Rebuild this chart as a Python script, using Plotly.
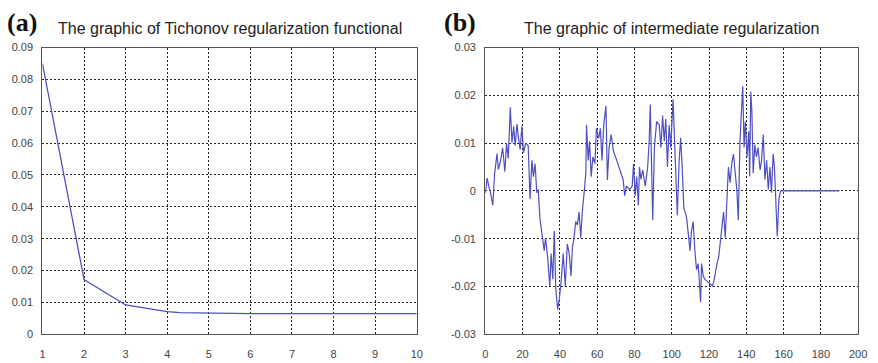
import plotly.graph_objects as go

# Panel (a): Tichonov regularization functional
iter_a = [1, 2, 3, 4, 4.3, 5, 6, 7, 8, 9, 10]
val_a = [0.085, 0.0172, 0.0092, 0.0071, 0.0068, 0.0066, 0.0065, 0.0065, 0.0065, 0.0065, 0.0065]

# Panel (b): intermediate regularization
x_b = [0, 1, 2, 2.6, 4, 5, 6.3, 7, 8, 9.3, 10.5, 11.4, 12.3, 13.4, 14.3, 15.2, 16.0, 17.0, 17.8,
       18.7, 19.6, 20.5, 21.7, 23, 24, 25, 25.8, 26.7, 27.6, 28.4, 29.3, 30.5, 31.6, 32.3, 33.4,
       34.6, 35.3, 36.2, 37, 37.8, 38.8, 39.7, 40.6, 41.8, 42.9, 44, 45, 46, 46.7, 47.6, 48.5,
       49.4, 50.3, 51.2, 52, 53, 53.9, 54.3, 55.2, 55.9, 56.8, 57.7, 58.8, 59.6, 60.8, 61.7,
       62.6, 63.5, 64.7, 65.5, 66.4, 67.5, 68.7, 70.5, 72.1, 73.9, 74.8, 75.7, 77.4, 78.8,
       79.5, 80.4, 81.2, 82.1, 82.7, 83.5, 84.4, 85.8, 87.1, 87.9, 88.5, 89.4, 89.8, 90.7,
       91.9, 93.3, 94.2, 95.1, 96, 96.8, 97.7, 98.6, 99.5, 100.7, 101.6, 102.5, 103, 103.9,
       104.8, 105.6, 106.5, 107.2, 108, 108.9, 109.8, 110.6, 111.5, 112.4, 113.3, 114.2,
       114.7, 115.5, 116, 116.9, 117.8, 119, 120.5, 121.9, 122.6, 123.5, 124.3, 125.2, 126.1,
       127, 127.8, 128.7, 129.6, 130.4, 131.3, 132.2, 133.1, 134, 134.9, 135.7, 136.6, 137.3,
       138.1, 138.8, 139.5, 140.4, 141.3, 141.8, 142.4, 143.0, 143.7, 144.6, 145.4, 146.3, 147.4,
       148.2, 149.1, 150.0, 150.9, 151.8, 152.7, 153.5, 154.4, 155.1, 155.8, 156.6, 157.5,
       158.4, 190]
y_b = [-0.0004, 0.0027, 0.0007, 0.0, -0.003, 0.0037, 0.0078, 0.0045, 0.006, 0.009, 0.004, 0.010,
       0.0068, 0.0175, 0.0101, 0.0135, 0.0095, 0.014, 0.011, 0.0087, 0.0135, 0.008, 0.010,
       0.0095, -0.0017, 0.0064, 0.003, 0.0057, -0.0004, 0.0003, -0.0058, -0.0091, -0.0125,
       -0.0098, -0.0138, -0.0199, -0.0131, -0.0185, -0.0084, -0.0204, -0.0248, -0.0226,
       -0.0192, -0.0131, -0.0199, -0.0111, -0.0131, -0.0178, -0.0118, -0.0098, -0.0064,
       -0.0071, -0.0044, -0.0098, -0.0044, -0.0004, 0.0037, 0.0138, 0.0064, 0.0104, 0.003,
       0.0071, 0.0057, 0.0131, 0.011, 0.0131, 0.0064, 0.0138, 0.0178, 0.0023, 0.0091, 0.0118,
       0.0084, 0.0064, 0.0044, 0.0024, -0.001, 0.001, 0.0003, 0.001, 0.0057, -0.001, 0.003,
       -0.003, 0.005, 0.0024, 0.0044, 0.001, 0.005, 0.0104, 0.0181, 0.0024, -0.0061, 0.0091,
       0.0145, 0.0138, 0.0091, 0.0158, 0.0104, 0.0151, 0.005, 0.0138, 0.0091, 0.0192, 0.0077,
       0.0003, -0.0051, 0.0057, 0.0111, 0.005, -0.0037, -0.0044, -0.0057, -0.0091, -0.0125,
       -0.0084, -0.0064, -0.0125, -0.0165, -0.0152, -0.0185, -0.0233, -0.0152, -0.0178,
       -0.0185, -0.0189, -0.0195, -0.0199, -0.0189, -0.0165, -0.0152, -0.0138, -0.0104,
       -0.0077, -0.0044, -0.0098, -0.001, 0.005, 0.0017, 0.0057, 0.0077, 0.0037, 0.0003,
       -0.0061, 0.0104, 0.0158, 0.0219, 0.0091, 0.0145, 0.0071, 0.0125, 0.0030, 0.0208,
       0.0165, 0.0037, 0.0097, 0.0071, 0.0091, 0.0044, 0.0064, 0.0118, 0.0024, 0.0064,
       0.0003, 0.005, -0.0004, 0.0077, 0.005, -0.0004, -0.0095, -0.0017, 0.0, 0.0]

a_yticks = [0, 0.01, 0.02, 0.03, 0.04, 0.05, 0.06, 0.07, 0.08, 0.09]
a_ytext = ["0", "0.01", "0.02", "0.03", "0.04", "0.05", "0.06", "0.07", "0.08", "0.09"]
b_yticks = [-0.03, -0.02, -0.01, 0, 0.01, 0.02, 0.03]
b_ytext = ["-0.03", "-0.02", "-0.01", "0", "0.01", "0.02", "0.03"]

W, H = 878, 363
line_color = "#4f4fc4"

fig = go.Figure()
fig.add_trace(go.Scatter(x=iter_a, y=val_a, mode="lines", line=dict(color=line_color, width=1.3),
                         xaxis="x", yaxis="y", showlegend=False))
fig.add_trace(go.Scatter(x=x_b, y=y_b, mode="lines", line=dict(color=line_color, width=1.2),
                         xaxis="x2", yaxis="y2", showlegend=False))

tickfont = dict(family="Liberation Sans, Arial, sans-serif", size=11, color="#444")
common = dict(showline=True, linecolor="#555", linewidth=1.3, mirror=True,
              showgrid=True, gridcolor="#222", gridwidth=1, griddash="2px,2px",
              zeroline=False, ticks="", tickfont=tickfont, fixedrange=True)

ytop = 1 - 43 / H
ybot = 1 - 339.5 / H
title_font = dict(family="Liberation Sans, Arial, sans-serif", size=16, color="#222")
tag_font = dict(family="Liberation Serif, Times New Roman, serif", size=26, color="#111")

fig.update_layout(
    width=W, height=H,
    margin=dict(l=0, r=0, t=0, b=0),
    paper_bgcolor="white", plot_bgcolor="white",
    xaxis=dict(domain=[40 / W, 419.5 / W], range=[1, 10], tickvals=list(range(1, 11)),
               anchor="y", ticklabelstandoff=9, **common),
    yaxis=dict(domain=[ybot, ytop], range=[0, 0.09], tickvals=a_yticks, ticktext=a_ytext,
               anchor="x", ticklabelstandoff=6, **common),
    xaxis2=dict(domain=[489 / W, 867 / W], range=[0, 200], tickvals=list(range(0, 201, 20)),
                anchor="y2", ticklabelstandoff=9, **common),
    yaxis2=dict(domain=[ybot, ytop], range=[-0.03, 0.03], tickvals=b_yticks, ticktext=b_ytext,
                anchor="x2", ticklabelstandoff=6, **common),
    annotations=[
        dict(text="The graphic of Tichonov regularization functional", x=230 / W, y=1 - 23 / H,
             xref="paper", yref="paper", showarrow=False, xanchor="center", yanchor="middle",
             font=title_font),
        dict(text="The graphic of intermediate regularization", x=678 / W, y=1 - 23 / H,
             xref="paper", yref="paper", showarrow=False, xanchor="center", yanchor="middle",
             font=title_font),
        dict(text="<b>(a)</b>", x=2 / W, y=1 - 17 / H, xref="paper", yref="paper",
             showarrow=False, xanchor="left", yanchor="middle", font=tag_font),
        dict(text="<b>(b)</b>", x=445 / W, y=1 - 17 / H, xref="paper", yref="paper",
             showarrow=False, xanchor="left", yanchor="middle", font=tag_font),
    ],
)

fig.write_html("out.html", config={"displayModeBar": False},
               post_script="document.body.style.margin='0';document.body.style.overflow='hidden';")
